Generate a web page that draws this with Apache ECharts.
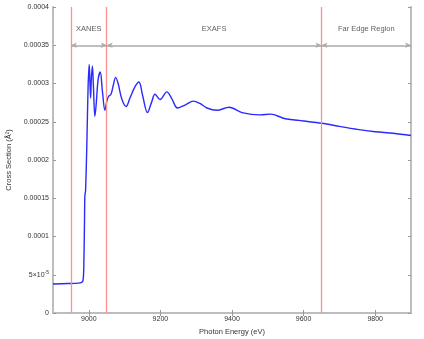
<!DOCTYPE html>
<html>
<head>
<meta charset="utf-8">
<script src="https://cdn.jsdelivr.net/npm/echarts@6/dist/echarts.min.js"></script>
<style>
  html, body { margin: 0; padding: 0; background: #fff; }
  #chart { width: 424px; height: 339px; }
</style>
</head>
<body>
<div id="chart"></div>
<script>
// photon energy (eV) and cross section (Å^2)
var energy = [8900, 8940, 8970, 8980, 8984, 8986, 8988, 8989, 8991, 8995, 8998, 9001,
  9003, 9005, 9007, 9010, 9013, 9017, 9021, 9026, 9032, 9038, 9045, 9050, 9055, 9062,
  9068, 9075, 9082, 9092, 9104, 9115, 9128, 9140, 9150, 9164, 9175, 9185, 9199, 9218,
  9232, 9248, 9270, 9292, 9310, 9330, 9358, 9392, 9428, 9479, 9507, 9549, 9600, 9650,
  9700, 9750, 9800, 9850, 9900];
var crossSection = [0.380, 0.385, 0.390, 0.400, 0.430, 0.600, 1.200, 1.530, 1.600, 2.300,
  2.950, 3.250, 3.050, 2.810, 3.050, 3.230, 2.950, 2.570, 2.750, 3.050, 3.150, 2.900,
  2.650, 2.760, 2.830, 2.860, 2.970, 3.080, 3.000, 2.800, 2.700, 2.810, 2.950, 3.020,
  2.850, 2.620, 2.750, 2.860, 2.790, 2.890, 2.800, 2.680, 2.720, 2.770, 2.740, 2.680,
  2.650, 2.690, 2.620, 2.590, 2.600, 2.540, 2.510, 2.480, 2.440, 2.400, 2.370, 2.350,
  2.320].map(function (v) { return v * 1e-4; });

// region boundaries and names
var boundaries = [8950, 9050, 9650, 9900];
var regionNames = ['XANES', 'EXAFS', 'Far Edge Region'];
var arrowLevel = 0.00035;
var labelLevel = 0.000371;

// ticks
var xTicks = [9000, 9200, 9400, 9600, 9800];
var yTicks = [0, 0.00005, 0.0001, 0.00015, 0.0002, 0.00025, 0.0003, 0.00035, 0.0004];
var yTickLabels = ['0', '{m|5×10}{s|-5}', '0.0001', '0.00015', '0.0002', '0.00025', '0.0003', '0.00035', '0.0004'];

var chart = echarts.init(document.getElementById('chart'));

var lineData = energy.map(function (e, i) { return [e, crossSection[i]]; });
var arrowData = [];
var labelData = [];
for (var i = 0; i < regionNames.length; ++i) {
  arrowData.push([{ coord: [boundaries[i], arrowLevel] }, { coord: [boundaries[i + 1], arrowLevel] }]);
  labelData.push({ value: [(boundaries[i] + boundaries[i + 1]) / 2, labelLevel], name: regionNames[i] });
}

var frameColor = '#bdbdbd';
var font = 'Liberation Sans, Arial, sans-serif';

var option = {
  backgroundColor: '#fff',
  animation: false,
  grid: { left: 53, right: 13, top: 7, bottom: 26, outerBoundsMode: 'none', containLabel: false },
  xAxis: [{
    type: 'value',
    min: 8900,
    max: 9900,
    name: 'Photon Energy (eV)',
    nameLocation: 'middle',
    nameGap: 15,
    nameTextStyle: { fontSize: 7.5, color: '#333', fontFamily: font },
    axisLine: { show: true, onZero: false, lineStyle: { color: frameColor, width: 2 } },
    axisTick: { show: true, inside: true, length: 3, customValues: xTicks, lineStyle: { color: '#999' } },
    axisLabel: {
      customValues: xTicks, fontSize: 7, color: '#333', fontFamily: font, margin: 3,
      formatter: function (v) { return String(v); }
    },
    splitLine: { show: false }
  }, {
    type: 'value',
    position: 'top',
    min: 8900,
    max: 9900,
    axisLine: { show: true, lineStyle: { color: frameColor, width: 2 } },
    axisTick: { show: true, inside: true, length: 3, customValues: xTicks, lineStyle: { color: '#999' } },
    axisLabel: { show: false },
    splitLine: { show: false }
  }],
  yAxis: [{
    type: 'value',
    min: 0,
    max: 0.0004,
    name: 'Cross Section (Å²)',
    nameLocation: 'middle',
    nameGap: 40,
    nameTextStyle: { fontSize: 7.5, color: '#333', fontFamily: font },
    axisLine: { show: true, onZero: false, lineStyle: { color: frameColor, width: 2 } },
    axisTick: { show: true, inside: true, length: 3, customValues: yTicks, lineStyle: { color: '#999' } },
    axisLabel: {
      customValues: yTicks,
      fontSize: 7,
      color: '#333',
      fontFamily: font,
      margin: 4,
      formatter: function (v) {
        var best = 0;
        for (var k = 0; k < yTicks.length; ++k) {
          if (Math.abs(yTicks[k] - v) < Math.abs(yTicks[best] - v)) best = k;
        }
        return yTickLabels[best];
      },
      rich: {
        m: { fontSize: 7, color: '#333', fontFamily: font },
        s: { fontSize: 5, color: '#333', fontFamily: font, padding: [0, 0, 5, 0] }
      }
    },
    splitLine: { show: false }
  }, {
    type: 'value',
    position: 'right',
    min: 0,
    max: 0.0004,
    axisLine: { show: true, lineStyle: { color: frameColor, width: 2 } },
    axisTick: { show: true, inside: true, length: 3, customValues: yTicks, lineStyle: { color: '#999' } },
    axisLabel: { show: false },
    splitLine: { show: false }
  }],
  series: [{
    name: 'cross section',
    type: 'line',
    data: lineData,
    smooth: 0.35,
    showSymbol: false,
    lineStyle: { color: '#2a2aff', width: 1.4 },
    z: 3,
    markLine: {
      silent: true,
      symbol: ['none', 'none'],
      label: { show: false },
      lineStyle: { color: '#ff9090', width: 1.3, type: 'solid', opacity: 1 },
      emphasis: { disabled: true },
      data: boundaries.slice(0, 3).map(function (b) { return { xAxis: b }; })
    }
  }, {
    name: 'regions',
    type: 'line',
    data: [],
    markLine: {
      silent: true,
      symbol: ['arrow', 'arrow'],
      symbolSize: [4, 6],
      label: { show: false },
      lineStyle: { color: '#aaaaaa', width: 1.5, type: 'solid' },
      data: arrowData
    }
  }, {
    name: 'labels',
    type: 'scatter',
    symbolSize: 0,
    data: labelData,
    label: {
      show: true,
      position: 'inside',
      formatter: '{b}',
      fontSize: 7.5,
      color: '#333',
      fontFamily: font
    }
  }]
};

chart.setOption(option);
</script>
</body>
</html>
